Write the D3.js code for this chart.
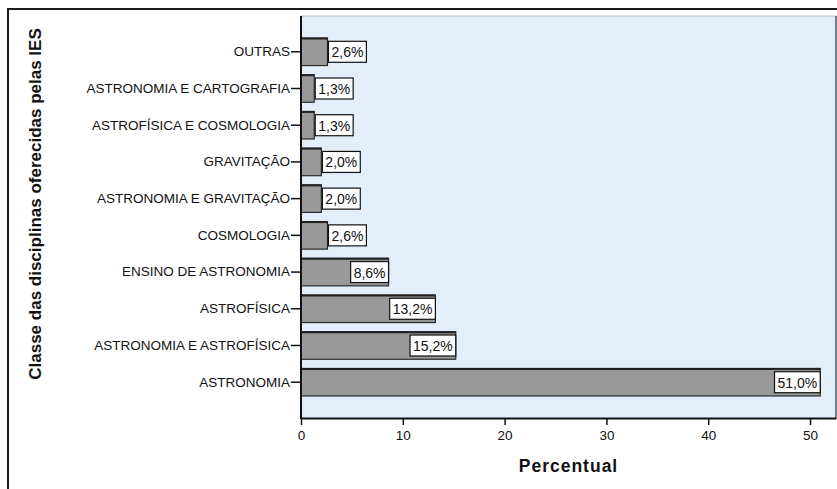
<!DOCTYPE html>
<html>
<head>
<meta charset="utf-8">
<script src="https://cdn.jsdelivr.net/npm/d3@7"></script>
<style>
  html, body { margin: 0; padding: 0; background: #fff; }
  svg { display: block; font-family: "Liberation Sans", Arial, sans-serif; }
</style>
</head>
<body>
<svg id="chart" width="837" height="489"></svg>
<script>
// Disciplinas de astronomia oferecidas pelas IES (percentual)
const categories = [
  "OUTRAS",
  "ASTRONOMIA E CARTOGRAFIA",
  "ASTROFÍSICA E COSMOLOGIA",
  "GRAVITAÇÃO",
  "ASTRONOMIA E GRAVITAÇÃO",
  "COSMOLOGIA",
  "ENSINO DE ASTRONOMIA",
  "ASTROFÍSICA",
  "ASTRONOMIA E ASTROFÍSICA",
  "ASTRONOMIA"
];
const values = [2.6, 1.3, 1.3, 2.0, 2.0, 2.6, 8.6, 13.2, 15.2, 51.0];
const xTicks = [0, 10, 20, 30, 40, 50];
const xTitle = "Percentual";
const yTitle = "Classe das disciplinas oferecidas pelas IES";

const svg = d3.select("#chart");
const W = 837, H = 489;
const plot = { left: 301, right: 836, top: 16, bottom: 418 };

// outer frame
svg.append("rect")
  .attr("x", 8).attr("y", 9)
  .attr("width", W + 10).attr("height", H + 10)
  .attr("fill", "#fff").attr("stroke", "#1a1a1a").attr("stroke-width", 2);

const x = d3.scaleLinear().domain([0, 52.55]).range([plot.left, plot.right]);
const y = d3.scaleBand().domain(categories)
  .range([plot.top, plot.bottom])
  .paddingInner(0.25).paddingOuter(0.6);

// plot background
svg.append("rect")
  .attr("x", plot.left).attr("y", plot.top)
  .attr("width", plot.right - plot.left).attr("height", plot.bottom - plot.top)
  .attr("fill", "#e2eef9");
svg.append("line")
  .attr("x1", plot.left).attr("x2", plot.right)
  .attr("y1", plot.top).attr("y2", plot.top)
  .attr("stroke", "#b8bcc0").attr("stroke-width", 1);
svg.append("line")
  .attr("x1", plot.right).attr("x2", plot.right)
  .attr("y1", plot.top).attr("y2", plot.bottom)
  .attr("stroke", "#555").attr("stroke-width", 1.5);

// bars
const rows = categories.map((c, i) => ({ c, v: values[i] }));
const bars = svg.append("g");
bars.selectAll("rect.bar").data(rows).join("rect")
  .attr("class", "bar")
  .attr("x", x(0))
  .attr("y", d => y(d.c))
  .attr("width", d => x(d.v) - x(0))
  .attr("height", y.bandwidth())
  .attr("fill", "#999999")
  .attr("stroke", "#2a2a2a").attr("stroke-width", 1.2);
// darker top edge of each bar
bars.selectAll("line.edge").data(rows).join("line")
  .attr("class", "edge")
  .attr("x1", x(0)).attr("x2", d => x(d.v))
  .attr("y1", d => y(d.c) + 0.5).attr("y2", d => y(d.c) + 0.5)
  .attr("stroke", "#222").attr("stroke-width", 2);

// value labels in boxes
const fmt = v => v.toFixed(1).replace(".", ",") + "%";
const labels = svg.append("g");
rows.forEach(d => {
  const g = labels.append("g");
  const t = g.append("text")
    .attr("font-size", 14).attr("fill", "#111")
    .attr("dominant-baseline", "central")
    .text(fmt(d.v));
  const tw = t.node().getComputedTextLength();
  const bw = tw + 6, bh = 21;
  const barW = x(d.v) - x(0);
  const bx = barW > bw + 4 ? x(d.v) - bw : x(d.v) + 1;
  const cy = y(d.c) + y.bandwidth() / 2;
  g.insert("rect", "text")
    .attr("x", bx).attr("y", cy - bh / 2)
    .attr("width", bw).attr("height", bh)
    .attr("fill", "#fff").attr("stroke", "#111").attr("stroke-width", 1.2);
  t.attr("x", bx + 3).attr("y", cy + 0.5);
});

// axes
const xAxis = svg.append("g")
  .attr("transform", `translate(0,${plot.bottom})`)
  .call(d3.axisBottom(x).tickValues(xTicks).tickSize(7).tickSizeOuter(0));
xAxis.select(".domain").attr("stroke", "#111").attr("stroke-width", 2);
xAxis.selectAll(".tick line").attr("stroke", "#111").attr("stroke-width", 1.5);
xAxis.selectAll(".tick text").attr("font-size", 13.5).attr("fill", "#111")
  .attr("y", 12).attr("font-family", "Liberation Sans, Arial, sans-serif");

const yAxis = svg.append("g")
  .attr("transform", `translate(${plot.left},0)`)
  .call(d3.axisLeft(y).tickSize(10).tickSizeOuter(0).tickPadding(1));
yAxis.select(".domain").remove();
svg.append("line")
  .attr("x1", plot.left).attr("x2", plot.left)
  .attr("y1", plot.top).attr("y2", plot.bottom + 1)
  .attr("stroke", "#111").attr("stroke-width", 2);
yAxis.selectAll(".tick line").attr("stroke", "#111").attr("stroke-width", 1.5);
yAxis.selectAll(".tick text").attr("font-size", 13.5).attr("fill", "#111")
  .attr("font-family", "Liberation Sans, Arial, sans-serif");

// axis titles
svg.append("text")
  .attr("x", (plot.left + plot.right) / 2).attr("y", 472)
  .attr("text-anchor", "middle")
  .attr("font-size", 17.5).attr("font-weight", "bold").attr("fill", "#111")
  .attr("letter-spacing", 1)
  .text(xTitle);
svg.append("text")
  .attr("transform", `translate(41,204) rotate(-90)`)
  .attr("text-anchor", "middle")
  .attr("font-size", 17).attr("font-weight", "bold").attr("fill", "#111")
  .text(yTitle);
</script>
</body>
</html>
